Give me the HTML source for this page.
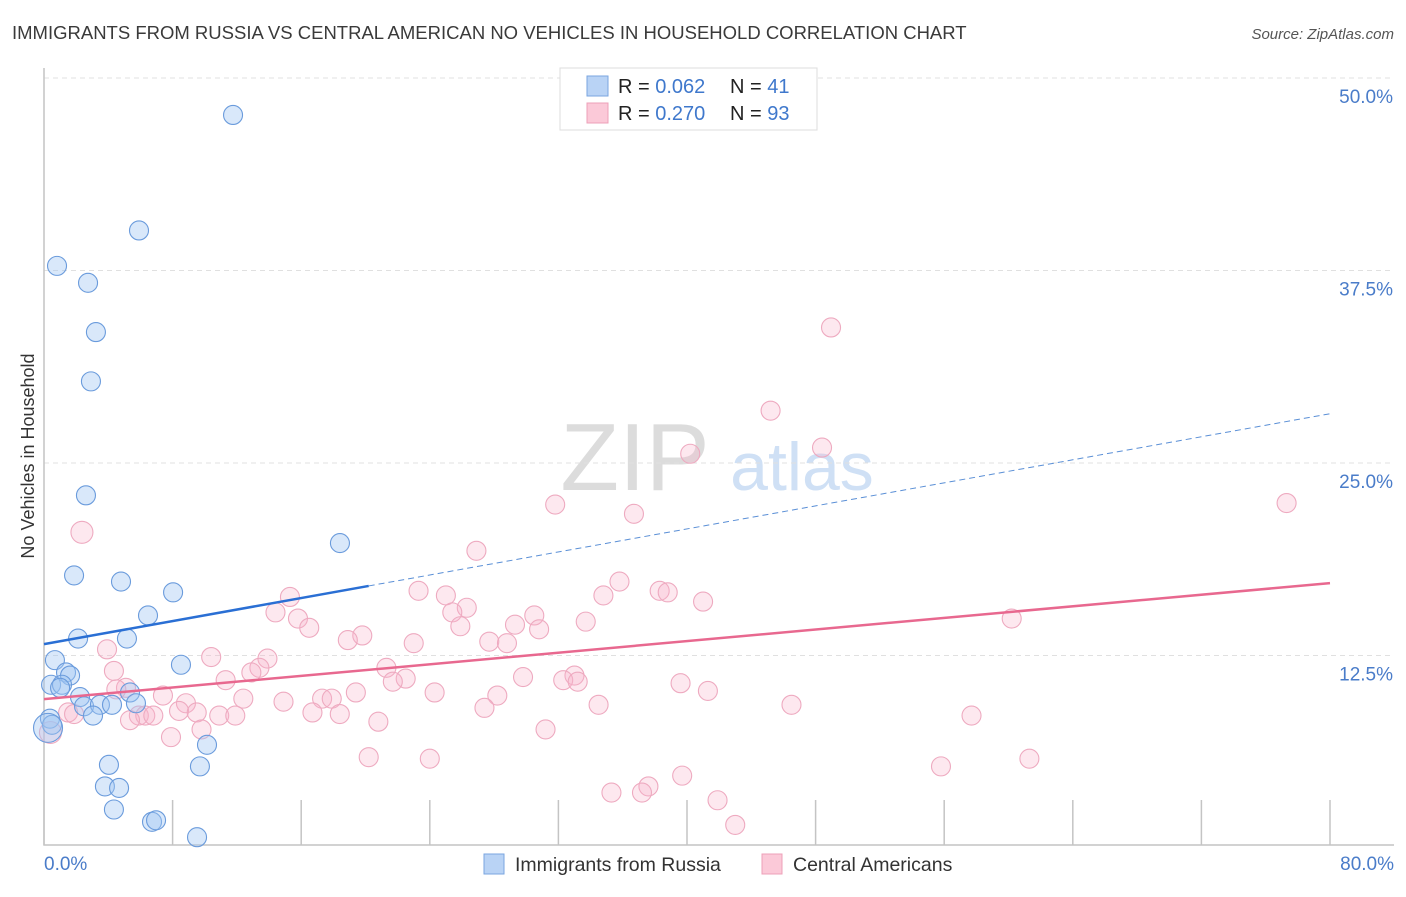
<!DOCTYPE html>
<html><head><meta charset="utf-8"><style>
body{margin:0;background:#fff;font-family:"Liberation Sans",sans-serif;}
svg text{font-family:"Liberation Sans",sans-serif;}
</style></head><body>
<svg id="chart" width="1406" height="892" xmlns="http://www.w3.org/2000/svg">
<text x="12" y="39" font-size="18.5" fill="#3a3a3a">IMMIGRANTS FROM RUSSIA VS CENTRAL AMERICAN NO VEHICLES IN HOUSEHOLD CORRELATION CHART</text>
<text x="1394" y="39" font-size="15" fill="#555" text-anchor="end" font-style="italic">Source: ZipAtlas.com</text>
<g>
<text x="635" y="490" font-size="96" fill="#dcdcdc" text-anchor="middle" font-family="Liberation Serif, serif">ZIP</text>
<text x="802" y="490" font-size="68" fill="#cfe0f5" text-anchor="middle">atlas</text>
</g>
<g id="grid"></g>
<g id="axes"></g>
<g id="marks"></g>
<g id="lines"></g>
<text transform="translate(34,456) rotate(-90)" font-size="18" fill="#333" text-anchor="middle">No Vehicles in Household</text>
<text x="44" y="870" font-size="19" fill="#4a7cc9">0.0%</text>
<text x="1394" y="870" font-size="19" fill="#4a7cc9" text-anchor="end">80.0%</text>
<g>
<rect x="560" y="68" width="257" height="62" fill="#fff" stroke="#ddd"/>
<rect x="587" y="76" width="21" height="20" fill="#b9d3f5" stroke="#7aa6e0"/>
<rect x="587" y="103" width="21" height="20" fill="#fbc9d8" stroke="#eea0b8"/>
<text x="618" y="93" font-size="20" fill="#222">R = <tspan fill="#3f78cc">0.062</tspan></text>
<text x="730" y="93" font-size="20" fill="#222">N =  <tspan fill="#3f78cc">41</tspan></text>
<text x="618" y="120" font-size="20" fill="#222">R = <tspan fill="#3f78cc">0.270</tspan></text>
<text x="730" y="120" font-size="20" fill="#222">N = <tspan fill="#3f78cc">93</tspan></text>
</g>
<g>
<rect x="484" y="854" width="20" height="20" fill="#b9d3f5" stroke="#7aa6e0"/>
<text x="515" y="871" font-size="19.5" fill="#333">Immigrants from Russia</text>
<rect x="762" y="854" width="20" height="20" fill="#fbc9d8" stroke="#eea0b8"/>
<text x="793" y="871" font-size="19.5" fill="#333">Central Americans</text>
</g>
</svg>
<script>
const yTicks=[12.5,25,37.5,50];
const yTickLabels=["12.5%","25.0%","37.5%","50.0%"];
const xTicks=[0,8,16,24,32,40,48,56,64,72,80];
const russiaX=[11.76,5.91,0.81,2.74,3.23,2.92,2.61,18.41,1.87,4.79,8.03,6.47,2.12,5.16,0.68,8.52,1.37,1.62,0.44,1.12,5.35,2.24,2.49,3.48,4.23,5.72,3.05,0.37,0.5,10.14,4.04,9.7,3.79,4.67,4.35,6.72,6.97,9.52,0.25,1.0];
const russiaY=[47.6,40.1,37.8,36.7,33.5,30.3,22.9,19.8,17.7,17.3,16.6,15.1,13.6,13.6,12.2,11.9,11.4,11.2,10.6,10.6,10.1,9.8,9.2,9.3,9.3,9.4,8.6,8.4,8.0,6.7,5.4,5.3,4.0,3.9,2.5,1.7,1.8,0.7,7.8,10.4];
const russiaR=[9,9,9,9,9,9,9,9,9,9,9,9,9,9,9,9,9,9,9,9,9,9,9,9,9,9,9,9,9,9,9,9,9,9,9,9,9,9,14,9];
const centralX=[48.96,45.2,48.4,40.2,77.3,31.8,36.7,2.36,26.9,35.8,23.3,25.0,34.8,38.3,38.8,41.0,15.3,26.3,25.4,30.5,14.4,15.8,16.5,25.9,29.3,30.8,33.7,60.2,19.8,18.9,23.0,27.7,28.8,3.92,10.4,13.9,13.4,4.35,21.3,12.9,22.5,21.7,29.8,33.0,32.3,33.2,39.6,11.3,5.1,4.5,7.4,19.4,24.3,28.2,41.3,12.4,8.83,14.9,17.3,17.9,34.5,46.5,8.4,1.5,1.87,5.9,6.3,6.8,9.5,16.7,18.4,10.9,11.9,27.4,57.7,5.35,20.8,9.8,31.2,0.4,7.9,20.2,24.0,61.3,55.8,39.7,37.6,37.2,35.3,41.9,43.0];
const centralY=[33.8,28.4,26.0,25.6,22.4,22.3,21.7,20.5,19.3,17.3,16.7,16.4,16.4,16.7,16.6,16.0,16.3,15.6,15.3,15.1,15.3,14.9,14.3,14.4,14.5,14.2,14.7,14.9,13.8,13.5,13.3,13.4,13.3,12.9,12.4,12.3,11.7,11.5,11.7,11.4,11.0,10.8,11.1,11.2,10.9,10.8,10.7,10.9,10.4,10.3,9.9,10.1,10.1,9.9,10.2,9.7,9.4,9.5,9.7,9.7,9.3,9.3,8.9,8.8,8.7,8.6,8.6,8.6,8.8,8.8,8.7,8.6,8.6,9.1,8.6,8.3,8.2,7.7,7.7,7.5,7.2,5.9,5.8,5.8,5.3,4.7,4.0,3.6,3.6,3.1,1.5];
const russiaTrend=[13.24,28.2];
const centralTrend=[9.67,17.2];
const russiaSolidEnd=20.2;

const NS="http://www.w3.org/2000/svg";
const X=v=>44+v/80*1286;
const Y=v=>848-v/12.5*192.5;
function mk(tag,attrs,parent){const e=document.createElementNS(NS,tag);for(const k in attrs)e.setAttribute(k,attrs[k]);parent.appendChild(e);return e;}
const grid=document.getElementById('grid'),axes=document.getElementById('axes'),marks=document.getElementById('marks'),lines=document.getElementById('lines');
yTicks.forEach((t,i)=>{
  const l=mk('line',{x1:44,x2:1394,y1:Y(t),y2:Y(t),stroke:'#e0e0e0','stroke-dasharray':'5,4'},grid);
  
  
  const tx=mk('text',{x:1393,y:Y(t)+25,'font-size':19,fill:'#4a7cc9','text-anchor':'end'},grid);
  tx.textContent=yTickLabels[i];
  
  
});
const ax=mk('path',{d:'M44,68 V845 H1394',fill:'none',stroke:'#c4c4c4','stroke-width':1.5},axes);


xTicks.forEach(t=>{
  const l=mk('line',{x1:X(t),x2:X(t),y1:800,y2:845,stroke:'#c4c4c4','stroke-width':1.5},axes);
  
  
});
centralX.forEach((v,i)=>{
  const c=mk('circle',{cx:X(v),cy:Y(centralY[i]),r:(i==7||i==79)?11:9.5,fill:'rgba(248,180,203,0.3)',stroke:'#eeaac0','stroke-width':1.1},marks);
  
  
});
russiaX.forEach((v,i)=>{
  const c=mk('circle',{cx:X(v),cy:Y(russiaY[i]),r:russiaR[i]+0.5,fill:'rgba(160,197,242,0.4)',stroke:'#6a9bdc','stroke-width':1.1},marks);
  
  
});
const rAt=x=>russiaTrend[0]+(russiaTrend[1]-russiaTrend[0])*x/80;
let l1=mk('line',{x1:X(0),y1:Y(rAt(0)),x2:X(russiaSolidEnd),y2:Y(rAt(russiaSolidEnd)),stroke:'#2a6fd4','stroke-width':2.5},lines);


let l2=mk('line',{x1:X(russiaSolidEnd),y1:Y(rAt(russiaSolidEnd)),x2:X(80),y2:Y(rAt(80)),stroke:'#5a8fd6','stroke-width':1,'stroke-dasharray':'6,4'},lines);


let l3=mk('line',{x1:X(0),y1:Y(centralTrend[0]),x2:X(80),y2:Y(centralTrend[1]),stroke:'#e8688f','stroke-width':2.5},lines);


</script>
</body></html>
